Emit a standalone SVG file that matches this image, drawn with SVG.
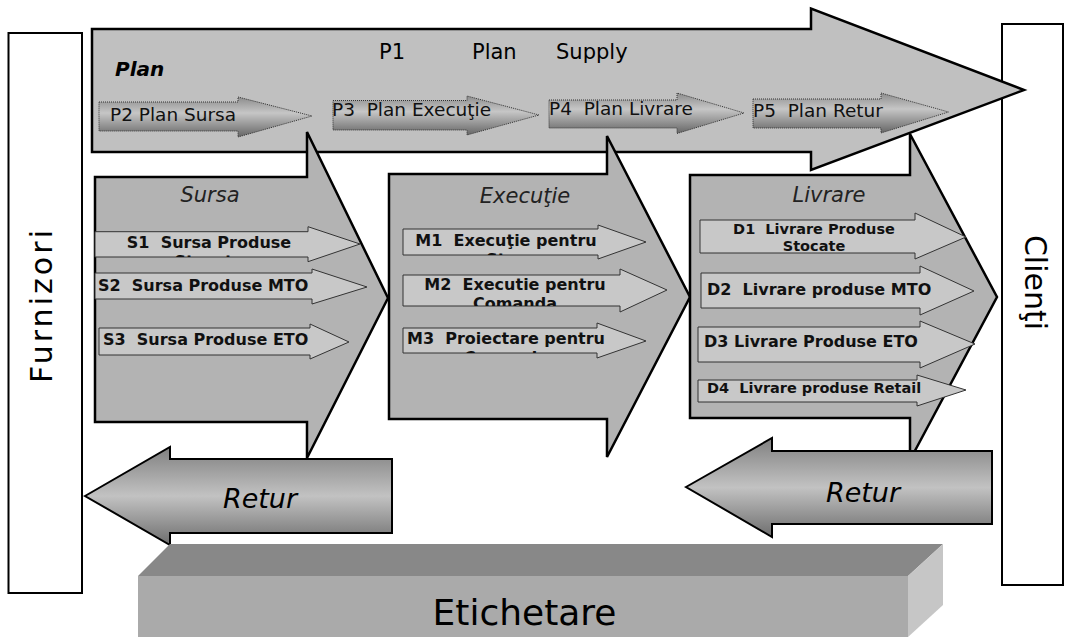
<svg xmlns="http://www.w3.org/2000/svg" width="1067" height="637" viewBox="0 0 1067 637">
<style>
text{font-family:"DejaVu Sans",Verdana,sans-serif;fill:#000;white-space:pre}
.box{fill:#fff;stroke:#000;stroke-width:2}
.big{fill:#b3b3b3;stroke:#000;stroke-width:2.5;stroke-linejoin:miter}
.top{fill:#c0c0c0;stroke:#000;stroke-width:2.5}
.parr{fill:url(#pg);stroke:#333;stroke-width:1;stroke-dasharray:1 1}
.sarr{fill:#c8c8c8;stroke:#333;stroke-width:1}
.ret{fill:url(#rg);stroke:#000;stroke-width:2}
.sub{font-weight:bold;font-size:16px;fill:#111}
.sm{font-size:14.5px}
.ttl{font-style:italic;font-size:21px;fill:#222;text-anchor:middle}
.ptx{font-size:18.5px;fill:#111}
.mid{text-anchor:middle}
</style>
<defs>
<linearGradient id="pg" x1="0" y1="0" x2="0" y2="1">
<stop offset="0" stop-color="#8c8c8c"/>
<stop offset="0.4" stop-color="#c6c6c6"/>
<stop offset="1" stop-color="#666"/>
</linearGradient>
<linearGradient id="rg" x1="0" y1="0" x2="0" y2="1">
<stop offset="0" stop-color="#808080"/>
<stop offset="0.5" stop-color="#c2c2c2"/>
<stop offset="1" stop-color="#6e6e6e"/>
</linearGradient>
<clipPath id="cS1"><rect x="95" y="231.7" width="265" height="25.3"/></clipPath>
<clipPath id="cM1"><rect x="403" y="229" width="243" height="26"/></clipPath>
<clipPath id="cM2"><rect x="403" y="275" width="264" height="31"/></clipPath>
<clipPath id="cM3"><rect x="403" y="328" width="243" height="25"/></clipPath>
</defs>

<g id="furnizori">
<rect class="box" x="8.5" y="33" width="73.5" height="560"/>
<text transform="translate(52,306.5) rotate(-90)" font-size="30" text-anchor="middle" textLength="153" lengthAdjust="spacing">Furnizori</text>
</g>

<g id="clienti">
<rect class="box" x="1002" y="24" width="61" height="561"/>
<text transform="translate(1025,282.5) rotate(90)" font-size="30" text-anchor="middle">Clienţi</text>
</g>

<g id="plan">
<polygon class="top" points="92,29 811,29 811,8.6 1024,90 811,170 811,152 92,152"/>
<text x="115" y="76" font-size="20" font-weight="bold" font-style="italic">Plan</text>
<text x="379" y="58.5" font-size="21" fill="#111">P1</text>
<text x="472" y="58.5" font-size="21" fill="#111">Plan</text>
<text x="556" y="58.5" font-size="21" fill="#111">Supply</text>
</g>

<g id="sursa">
<polygon class="big" points="95,177 307,177 307,132 388,298 307,458 307,422 95,422"/>
<text class="ttl" x="210" y="202">Sursa</text>
</g>

<g id="executie">
<polygon class="big" points="389,174 607,174 607,136 690,297 607,457 607,419 389,419"/>
<text class="ttl" x="525" y="203">Execuţie</text>
</g>

<g id="livrare">
<polygon class="big" points="690,175 910,175 910,134 997,297 910,460 910,418 690,418"/>
<text class="ttl" x="829" y="202">Livrare</text>
</g>

<g id="p2">
<polygon class="parr" points="99,102 238,102 238,97 312,116 238,137 238,131 99,131"/>
<text class="ptx" x="110" y="120.5" font-size="19.5">P2 Plan Sursa</text>
</g>
<g id="p3">
<polygon class="parr" points="333,100.5 467,100.5 467,96 539,115 467,135 467,130 333,130"/>
<text class="ptx" x="332" y="116">P3  Plan Execuţie</text>
</g>
<g id="p4">
<polygon class="parr" points="549,100 677,100 677,93 744,113 677,133.5 677,128 549,128"/>
<text class="ptx" x="549" y="115">P4  Plan Livrare</text>
</g>
<g id="p5">
<polygon class="parr" points="753,99 881,99 881,93 948.5,112 881,133 881,128 753,128"/>
<text class="ptx" x="753" y="116.5" font-size="21">P5  Plan Retur</text>
</g>

<g id="s1">
<polygon class="sarr" points="95,231.7 308,231.7 308,226.7 360,244 308,261.7 308,257 95,257"/>
<g clip-path="url(#cS1)">
<text class="sub mid" x="209" y="248">S1  Sursa Produse</text>
<text class="sub mid" x="209" y="267">Stocate</text>
</g>
</g>
<g id="s2">
<polygon class="sarr" points="95,273 312,273 312,269 367,287 312,304 312,299 95,299"/>
<text class="sub" x="98" y="290.7">S2  Sursa Produse MTO</text>
</g>
<g id="s3">
<polygon class="sarr" points="99,328 310,328 310,324 349,342 310,359 310,355 99,355"/>
<text class="sub" x="103" y="345">S3  Sursa Produse ETO</text>
</g>

<g id="m1">
<polygon class="sarr" points="403,229 598,229 598,225 646,242 598,259 598,255 403,255"/>
<g clip-path="url(#cM1)">
<text class="sub mid" x="506" y="246">M1  Execuţie pentru</text>
<text class="sub mid" x="506" y="265">Stoc</text>
</g>
</g>
<g id="m2">
<polygon class="sarr" points="403,275 620,275 620,269 667,290 620,312 620,306 403,306"/>
<g clip-path="url(#cM2)">
<text class="sub mid" x="515" y="290">M2  Executie pentru</text>
<text class="sub mid" x="515" y="309">Comanda</text>
</g>
</g>
<g id="m3">
<polygon class="sarr" points="403,328 597,328 597,323 646,341 597,358 597,353 403,353"/>
<g clip-path="url(#cM3)">
<text class="sub mid" x="506" y="344">M3  Proiectare pentru</text>
<text class="sub mid" x="506" y="363">Comanda</text>
</g>
</g>

<g id="d1">
<polygon class="sarr" points="700,220 915,220 915,213 966,237 915,259 915,253 700,253"/>
<text class="sub sm mid" x="814" y="234">D1  Livrare Produse</text>
<text class="sub sm mid" x="814" y="251">Stocate</text>
</g>
<g id="d2">
<polygon class="sarr" points="701,273 920,273 920,266 974,291 920,315 920,308 701,308"/>
<text class="sub" x="707" y="295">D2  Livrare produse MTO</text>
</g>
<g id="d3">
<polygon class="sarr" points="698,327 920,327 920,321 975,344 920,368 920,362 698,362"/>
<text class="sub" x="704" y="347">D3 Livrare Produse ETO</text>
</g>
<g id="d4">
<polygon class="sarr" points="698,380 917,380 917,375 966,390 917,406 917,402 698,402"/>
<text class="sub sm" x="707" y="393">D4  Livrare produse Retail</text>
</g>

<g id="retur-sursa">
<polygon class="ret" points="85,496 170,447 170,459 392,459 392,533 170,533 170,545"/>
<text x="260" y="508" font-size="27" font-style="italic" text-anchor="middle" fill="#111">Retur</text>
</g>
<g id="retur-livrare">
<polygon class="ret" points="686,487 772,438 772,451 992,451 992,524 772,524 772,537"/>
<text x="863" y="502" font-size="27" font-style="italic" text-anchor="middle" fill="#111">Retur</text>
</g>

<g id="etichetare">
<polygon points="170,544 943,544 908,576 138,576" fill="#888"/>
<rect x="138" y="576" width="770" height="64" fill="#aaa"/>
<polygon points="908,576 943,544 943,605 908,637" fill="#c6c6c6"/>
<text x="524.5" y="625" font-size="36" text-anchor="middle" fill="#111">Etichetare</text>
</g>

<g id="connectors"/>
</svg>
